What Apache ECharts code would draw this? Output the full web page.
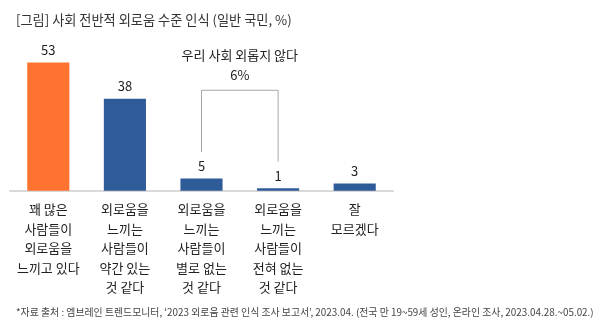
<!DOCTYPE html>
<html><head><meta charset="utf-8">
<script src="https://cdn.jsdelivr.net/npm/echarts@6/dist/echarts.min.js"></script>
<style>html,body{margin:0;padding:0;background:#fff}#c{width:607px;height:331px}</style>
</head><body><div id="c"></div>
<script>
var titleText = '[그림] 사회 전반적 외로움 수준 인식 (일반 국민, %)';
var footnote = '*자료 출처 : 엠브레인 트렌드모니터, ‘2023 외로움 관련 인식 조사 보고서’, 2023.04. (전국 만 19~59세 성인, 온라인 조사, 2023.04.28.~05.02.)';
var categories = [
  '꽤 많은\n사람들이\n외로움을\n느끼고 있다',
  '외로움을\n느끼는\n사람들이\n약간 있는\n것 같다',
  '외로움을\n느끼는\n사람들이\n별로 없는\n것 같다',
  '외로움을\n느끼는\n사람들이\n전혀 없는\n것 같다',
  '잘\n모르겠다'
];
var values = [53, 38, 5, 1, 3];
var barColors = ['#FF7331', '#2F5B98', '#2F5B98', '#2F5B98', '#2F5B98'];
// bracket: [fromIndex, toIndex, topValue, leftLegEnd, rightLegEnd]
var bracket = [[2, 3, 41.5, 16, 12]];
var bracketTitle = '우리 사회 외롭지 않다';
var bracketValue = '6%';

var FONT = 'Noto Sans CJK KR';
var chart = echarts.init(document.getElementById('c'), null, {renderer: 'canvas'});
chart.setOption({
  animation: false,
  textStyle: {fontFamily: FONT},
  title: [
    {text: titleText, left: 11, top: 8, textStyle: {fontSize: 13.2, fontWeight: 'normal', color: '#333', fontFamily: FONT}},
    {text: footnote, left: 11, top: 302, textStyle: {fontSize: 9.9, fontWeight: 'normal', color: '#444', fontFamily: FONT}}
  ],
  grid: {left: 10, right: 214, top: 45.5, bottom: 140.3},
  xAxis: {
    type: 'category', data: categories,
    axisLine: {lineStyle: {color: '#d9d9d9', width: 2}},
    axisTick: {show: false},
    axisLabel: {interval: 0, margin: 9, fontSize: 13, lineHeight: 19.5, color: '#222', fontFamily: FONT}
  },
  yAxis: {type: 'value', min: 0, max: 60, show: false, splitLine: {show: false}},
  series: [
    {
      type: 'bar', barWidth: '55%',
      data: values.map(function (v, i) { return {value: v, itemStyle: {color: barColors[i]}}; }),
      label: {show: true, position: 'top', distance: 6, fontSize: 13, color: '#222', fontFamily: FONT}
    },
    {
      type: 'custom', data: bracket, silent: true,
      renderItem: function (params, api) {
        var a = api.value(0), b = api.value(1), top = api.value(2), l = api.value(3), r = api.value(4);
        var p1 = api.coord([a, l]), p2 = api.coord([a, top]), p3 = api.coord([b, top]), p4 = api.coord([b, r]);
        var cx = (p2[0] + p3[0]) / 2;
        return {
          type: 'group',
          children: [
            {type: 'polyline', shape: {points: [p1, p2, p3, p4]}, style: {stroke: '#a6a6a6', lineWidth: 1, fill: null}},
            {type: 'text', style: {text: bracketValue, x: cx, y: p2[1] - 15, align: 'center', verticalAlign: 'middle', fontSize: 13, fill: '#222', fontFamily: FONT}},
            {type: 'text', style: {text: bracketTitle, x: cx, y: p2[1] - 35, align: 'center', verticalAlign: 'middle', fontSize: 13, fill: '#222', fontFamily: FONT}}
          ]
        };
      }
    }
  ]
});
</script></body></html>
